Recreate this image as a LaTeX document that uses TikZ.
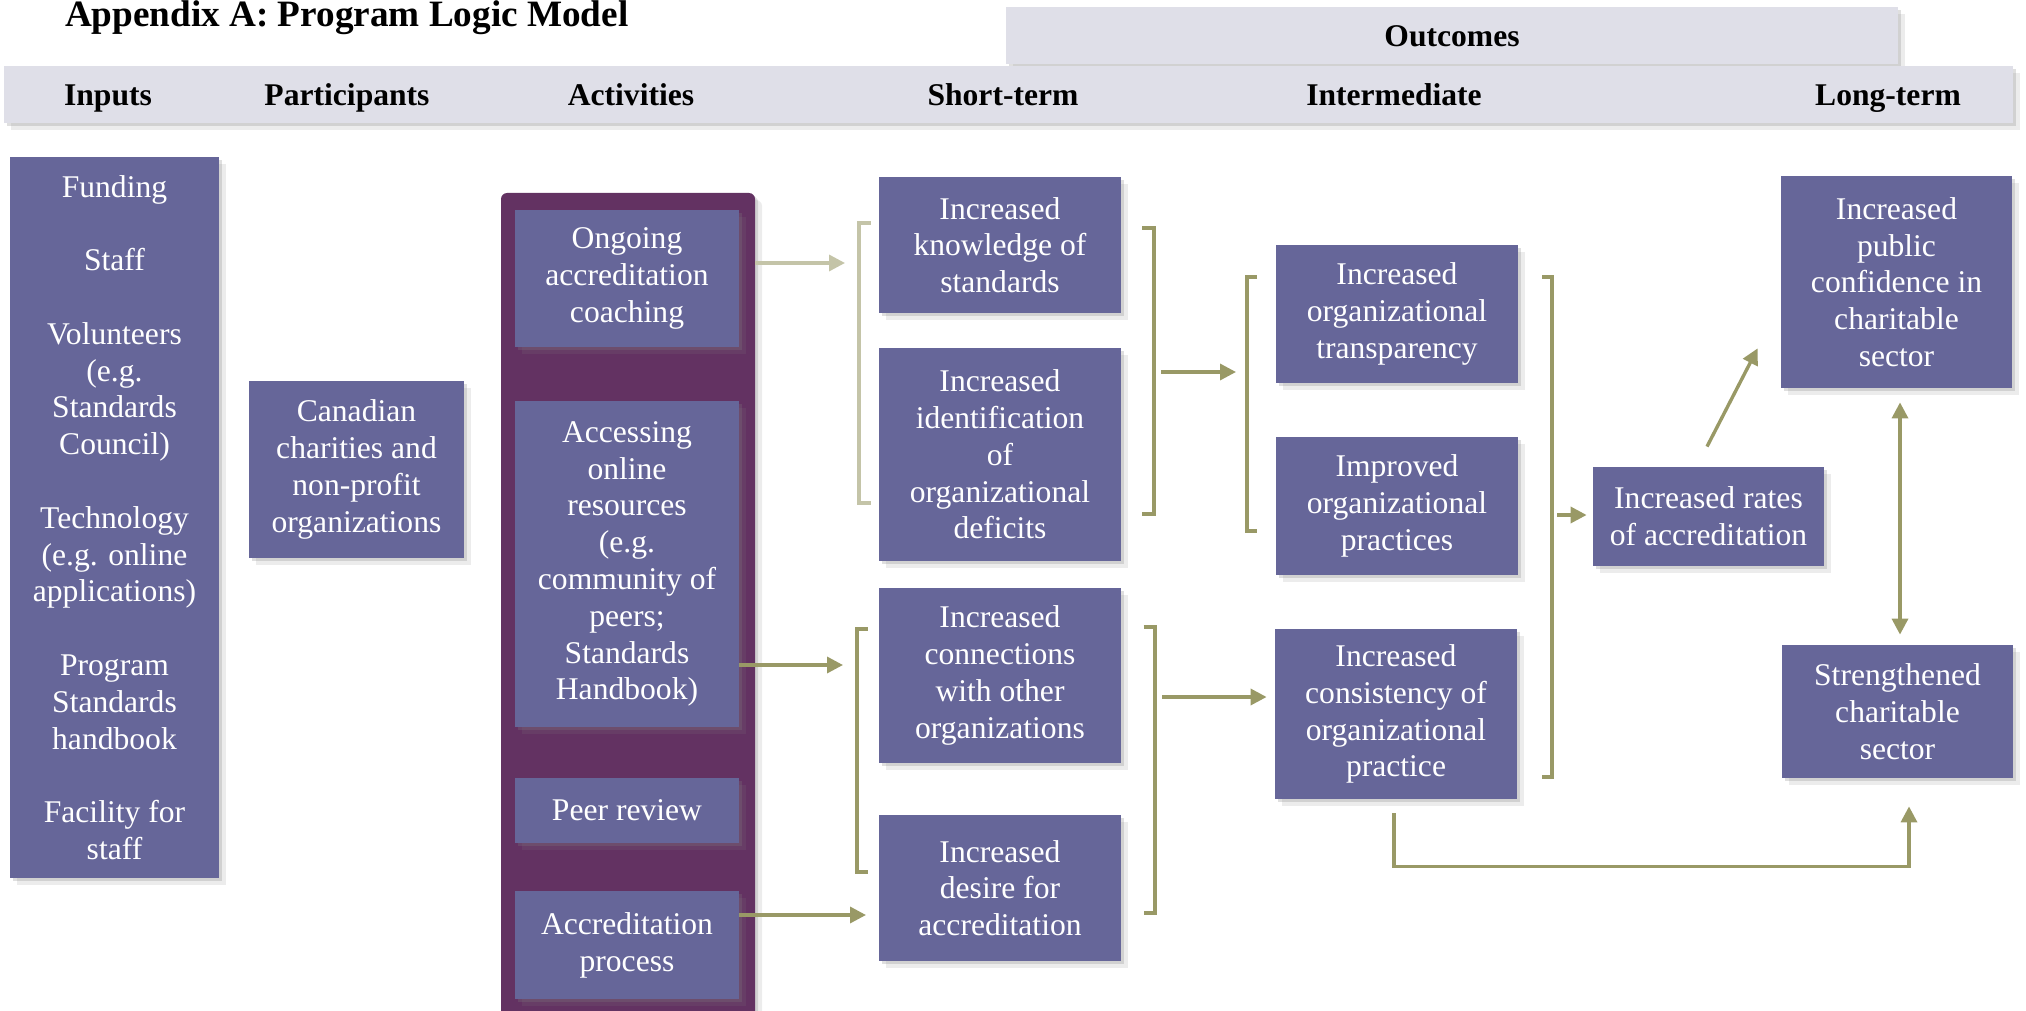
\documentclass[tikz,border=0pt]{standalone}
\usepackage{fontspec}
\setmainfont{Liberation Serif}
\usetikzlibrary{arrows.meta,positioning,shadows,calc}
\definecolor{boxfill}{RGB}{102,102,153}
\definecolor{actfill}{RGB}{99,50,98}
\definecolor{barfill}{RGB}{223,223,232}
\definecolor{olive}{RGB}{153,153,102}
\definecolor{olivelt}{RGB}{196,196,168}
\begin{document}
\begin{tikzpicture}[x=0.5pt,y=-0.5pt,>={Triangle[length=8pt,width=8pt]},
  soft/.style={drop shadow={shadow xshift=1.5pt,shadow yshift=-1.5pt,opacity=.25},drop shadow={shadow xshift=3.5pt,shadow yshift=-3.5pt,opacity=.15}},
  box/.style={soft,fill=boxfill,text=white,align=center,inner sep=0pt,font=\fontsize{15.8}{18.4}\selectfont},
  head/.style={anchor=base,font=\fontsize{15.8}{18.4}\selectfont\bfseries},
  conn/.style={olive,line width=1.7pt,->},
  brk/.style={olive,line width=1.6pt}]
\useasboundingbox (0,0) rectangle (2026,1011);
\node[anchor=base west,font=\fontsize{18.6}{22}\selectfont\bfseries] (title) at (58,27) {Appendix A: Program Logic Model};
\path[soft,fill=barfill] (1006,7) rectangle (1898,64);
\path[soft,fill=barfill] (4,66) rectangle (2013,123);
\node[head] (hOut) at (1452,47) {Outcomes};
\node[head] (hIn) at (108,106) {Inputs}; \node[head] (hPart) at (347,106) {Participants};
\node[head] (hAct) at (631,106) {Activities}; \node[head] (hShort) at (1003,106) {Short-term};
\node[head] (hMid) at (1394,106) {Intermediate}; \node[head] (hLong) at (1888,106) {Long-term};
\node[box,minimum width=104.5pt,minimum height=360.5pt] (inputs) at (114.5,517.5) {Funding\\[18.4pt]Staff\\[18.4pt]Volunteers\\(e.g.\\Standards\\Council)\\[18.4pt]Technology\\(e.g. online\\applications)\\[18.4pt]Program\\Standards\\handbook\\[18.4pt]Facility for\\staff};
\node[box,minimum width=107.5pt,minimum height=88.5pt] (partic) at (356.5,469.5) {Canadian\\charities and\\non-profit\\organizations};
\node[soft,fill=actfill,rounded corners=3pt,minimum width=127pt,minimum height=423.5pt] (actbg) at (628,616.5) {};
\node[box,minimum width=112pt,minimum height=68.5pt] (ongoing) at (627,278.5) {Ongoing\\accreditation\\coaching};
\node[box,minimum width=112pt,minimum height=163pt] (access) at (627,564) {Accessing\\online\\resources\\(e.g.\\community of\\peers;\\Standards\\Handbook)};
\node[box,minimum width=112pt,minimum height=32.5pt] (peer) at (627,810.5) {Peer review};
\node[box,minimum width=112pt,minimum height=54pt] (accr) at (627,945) {Accreditation\\process};
\node[box,minimum width=121pt,minimum height=68pt] (know) at (1000,245) {Increased\\knowledge of\\standards};
\node[box,minimum width=121pt,minimum height=106.5pt] (ident) at (1000,454.5) {Increased\\identification\\of\\organizational\\deficits};
\node[box,minimum width=121pt,minimum height=87.5pt] (connect) at (1000,675.5) {Increased\\connections\\with other\\organizations};
\node[box,minimum width=121pt,minimum height=73pt] (desire) at (1000,888) {Increased\\desire for\\accreditation};
\node[box,minimum width=121pt,minimum height=69pt] (transp) at (1397,314) {Increased\\organizational\\transparency};
\node[box,minimum width=121pt,minimum height=69pt] (improv) at (1397,506) {Improved\\organizational\\practices};
\node[box,minimum width=121pt,minimum height=85pt] (consist) at (1396,714) {Increased\\consistency of\\organizational\\practice};
\node[box,minimum width=115.5pt,minimum height=49.5pt] (rates) at (1708.5,516.5) {Increased rates\\of accreditation};
\node[box,minimum width=115.5pt,minimum height=106pt] (public) at (1896.5,282) {Increased\\public\\confidence in\\charitable\\sector};
\node[box,minimum width=115.5pt,minimum height=66.5pt] (strength) at (1897.5,711.5) {Strengthened\\charitable\\sector};
\draw[brk,olivelt] (870.5,223) -- (859,223) -- (859,503) -- (870.5,503);
\foreach \x/\t/\a/\b in {1154/-12/228/514,857/10.5/629/872,1155/-11.5/627/913,1247/10/277/531,1552/-10/277/777}
  \draw[brk] (\x+\t,\a) -- (\x,\a) -- (\x,\b) -- (\x+\t,\b);
\coordinate (b1) at (845,263); \coordinate (b2) at (843,665); \coordinate (b3) at (866,915);
\coordinate (b4) at (1161,372); \coordinate (b5) at (1162,697); \coordinate (b6) at (1557,515);
\draw[conn,olivelt] (actbg.east |- b1) -- (b1);
\draw[conn] (access.east |- b2) -- (b2);
\draw[conn] (accr.east |- b3) -- (b3);
\draw[conn] (b4) -- ++(75,0);
\draw[conn,shorten >=4pt] (b5) -- (b5 -| consist.west);
\draw[conn,shorten >=3pt] (b6) -- (b6 -| rates.west);
\draw[conn] ($(rates.north)+(-1.5,-20)$) -- ($(public.south west)+(-23,-40)$);
\draw[conn,<->] ($(public.south)+(3.5,14)$) -- ($(strength.north)+(2.5,-10)$);
\draw[conn] ($(consist.south)+(-2,14)$) -- ++(0,53) -| ($(strength.south)+(11.5,28)$);
\end{tikzpicture}
\end{document}
